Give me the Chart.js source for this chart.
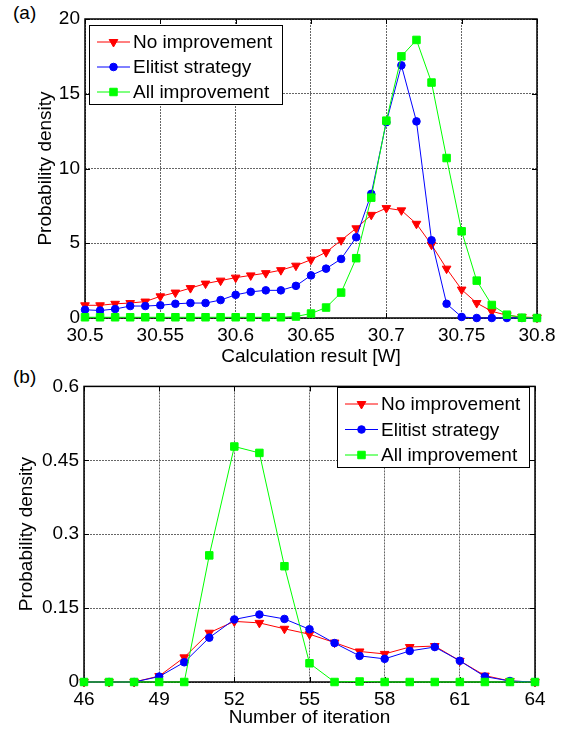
<!DOCTYPE html>
<html>
<head>
<meta charset="utf-8">
<script src="https://cdn.jsdelivr.net/npm/chart.js@4/dist/chart.umd.min.js"></script>
<style>
  body { margin: 0; background: #fff; }
  #wrap { position: relative; width: 565px; height: 731px; font-family: "Liberation Sans", Arial, sans-serif; }
  canvas { position: absolute; left: 0; }
  .tag { position: absolute; font-size: 19px; line-height: 19px; color: #000; }
</style>
</head>
<body>
<div id="wrap">
  <div class="tag" style="left:13px;top:3px;">(a)</div>
  <div class="tag" style="left:13px;top:367px;">(b)</div>
  <canvas id="cA" width="565" height="370" style="top:0"></canvas>
  <canvas id="cB" width="565" height="361" style="top:370px"></canvas>
</div>
<script>
// (a) calculation result
const resultX = [30.50, 30.51, 30.52, 30.53, 30.54, 30.55, 30.56, 30.57, 30.58, 30.59, 30.60,
  30.61, 30.62, 30.63, 30.64, 30.65, 30.66, 30.67, 30.68, 30.69, 30.70,
  30.71, 30.72, 30.73, 30.74, 30.75, 30.76, 30.77, 30.78, 30.79, 30.80];
const resultNone = [0.85, 0.85, 0.95, 1.0, 1.1, 1.45, 1.7, 2.0, 2.3, 2.5, 2.7,
  2.85, 3.0, 3.2, 3.5, 3.9, 4.4, 5.2, 6.0, 6.9, 7.35,
  7.2, 6.3, 4.9, 3.3, 1.9, 1.0, 0.45, 0.18, 0.07, 0.02];
const resultElite = [0.55, 0.5, 0.6, 0.8, 0.8, 0.85, 0.95, 1.0, 1.0, 1.2, 1.55,
  1.75, 1.85, 1.85, 2.15, 2.85, 3.3, 3.95, 5.4, 8.3, 13.1,
  16.9, 13.15, 5.2, 0.95, 0.07, 0, 0, 0, 0, 0];
const resultAll = [0.05, 0.05, 0.05, 0.05, 0.05, 0.05, 0.05, 0.05, 0.05, 0.05, 0.05,
  0.05, 0.05, 0.05, 0.1, 0.3, 0.7, 1.7, 4.0, 8.05, 13.2,
  17.5, 18.6, 15.75, 10.7, 5.8, 2.5, 0.87, 0.22, 0.02, 0];
const resultXTicks = [30.5, 30.55, 30.6, 30.65, 30.7, 30.75, 30.8];
const resultYTicks = [0, 5, 10, 15, 20];

// (b) number of iteration
const iterX = [46, 47, 48, 49, 50, 51, 52, 53, 54, 55, 56, 57, 58, 59, 60, 61, 62, 63, 64];
const iterNone = [0, 0, 0, 0.012, 0.05, 0.1, 0.123, 0.12, 0.108, 0.097, 0.08, 0.062, 0.057, 0.071, 0.073, 0.043, 0.013, 0.002, 0];
const iterElite = [0, 0, 0, 0.011, 0.04, 0.09, 0.127, 0.137, 0.128, 0.107, 0.079, 0.053, 0.047, 0.063, 0.071, 0.043, 0.011, 0.002, 0];
const iterAll = [0, 0, 0, 0, 0, 0.257, 0.478, 0.465, 0.235, 0.038, 0, 0.001, 0, 0, 0, 0, 0, 0, 0];
const iterXTicks = [46, 49, 52, 55, 58, 61, 64];
const iterYTicks = [0, 0.15, 0.3, 0.45, 0.6];
const iterYLabels = ['0', '0.15', '0.3', '0.45', '0.6'];

const seriesNames = ['No improvement', 'Elitist strategy', 'All improvement'];

Chart.defaults.font.family = '"Liberation Sans", Arial, sans-serif';
Chart.defaults.font.size = 19;
Chart.defaults.color = '#000';

const pts = (xs, ys) => xs.map((x, i) => ({ x, y: ys[i] }));

function makeSets(xs, a, b, c) {
  const base = { borderWidth: 1, pointBorderWidth: 1, tension: 0, clip: false, pointHoverRadius: 5 };
  return [
    { ...base, label: seriesNames[0], data: pts(xs, a), borderColor: '#ff0000', backgroundColor: '#ff0000',
      pointStyle: 'triangle', rotation: 180, pointRadius: 5, order: 3 },
    { ...base, label: seriesNames[1], data: pts(xs, b), borderColor: '#0000ff', backgroundColor: '#0000ff',
      pointStyle: 'circle', pointRadius: 3.8, order: 2 },
    { ...base, label: seriesNames[2], data: pts(xs, c), borderColor: '#00ff00', backgroundColor: '#00ff00',
      pointStyle: 'rect', pointRadius: 5.3, order: 1 },
  ];
}

// matlab-ish box with inward ticks on all sides
const frame = {
  id: 'frame',
  beforeDatasetsDraw(chart) {
    const { ctx, chartArea: a, scales: { x, y } } = chart;
    ctx.save();
    ctx.strokeStyle = '#000';
    ctx.lineWidth = 1;
    ctx.beginPath();
    x.ticks.forEach((t) => {
      const px = Math.round(x.getPixelForValue(t.value)) + 0.5;
      ctx.moveTo(px, a.bottom); ctx.lineTo(px, a.bottom - 5);
      ctx.moveTo(px, a.top); ctx.lineTo(px, a.top + 5);
    });
    y.ticks.forEach((t) => {
      const py = Math.round(y.getPixelForValue(t.value)) + 0.5;
      ctx.moveTo(a.left, py); ctx.lineTo(a.left + 5, py);
      ctx.moveTo(a.right, py); ctx.lineTo(a.right - 5, py);
    });
    ctx.stroke();
    ctx.lineWidth = 1.5;
    ctx.strokeRect(a.left, a.top, a.width, a.height);
    ctx.restore();
  },
};

// legend box inside the plot
const boxLegend = {
  id: 'boxLegend',
  afterDraw(chart, args, o) {
    const { ctx } = chart;
    ctx.save();
    ctx.fillStyle = '#fff';
    ctx.fillRect(o.x, o.y, o.w, o.h);
    ctx.strokeStyle = '#000';
    ctx.lineWidth = 1;
    ctx.strokeRect(o.x + 0.5, o.y + 0.5, o.w, o.h);
    chart.data.datasets.forEach((ds, i) => {
      const ry = o.rows[i];
      ctx.strokeStyle = ds.borderColor;
      ctx.lineWidth = 1;
      ctx.beginPath();
      ctx.moveTo(o.x0, ry); ctx.lineTo(o.x1, ry);
      ctx.stroke();
      ctx.fillStyle = ds.backgroundColor;
      Chart.helpers.drawPoint(ctx, { pointStyle: ds.pointStyle, radius: ds.pointRadius, rotation: ds.rotation || 0, borderWidth: 1 }, (o.x0 + o.x1) / 2, ry);
      ctx.fillStyle = '#000';
      ctx.font = '19px "Liberation Sans", Arial, sans-serif';
      ctx.textBaseline = 'middle';
      ctx.fillText(ds.label, o.tx, ry + 1);
    });
    ctx.restore();
  },
};

function makeChart(id, sets, cfg) {
  return new Chart(document.getElementById(id), {
    type: 'line',
    data: { datasets: sets },
    plugins: [frame, boxLegend],
    options: {
      responsive: false,
      animation: false,
      layout: { padding: cfg.pad },
      plugins: { legend: { display: false }, tooltip: { enabled: false }, boxLegend: cfg.legend },
      scales: {
        x: {
          type: 'linear', min: cfg.xTicks[0], max: cfg.xTicks[cfg.xTicks.length - 1],
          afterBuildTicks: (s) => { s.ticks = cfg.xTicks.map((v) => ({ value: v })); },
          afterFit: (s) => { s.height = cfg.xH; },
          ticks: { padding: 6, maxRotation: 0, callback: (v) => String(v) },
          grid: { color: '#666', drawTicks: false },
          border: { display: false, dash: [2, 1] },
          title: { display: true, text: cfg.xTitle, padding: { top: 0, bottom: cfg.xTitlePad } },
        },
        y: {
          min: cfg.yTicks[0], max: cfg.yTicks[cfg.yTicks.length - 1],
          afterBuildTicks: (s) => { s.ticks = cfg.yTicks.map((v) => ({ value: v })); },
          afterFit: (s) => { s.width = cfg.yW; },
          ticks: { padding: 5, callback: (v) => cfg.yLabels[cfg.yTicks.indexOf(v)] },
          grid: { color: '#666', drawTicks: false },
          border: { display: false, dash: [2, 1] },
          title: { display: true, text: 'Probability density', padding: { top: cfg.yTitlePad, bottom: 0 } },
        },
      },
    },
  });
}

makeChart('cA', makeSets(resultX, resultNone, resultElite, resultAll), {
  pad: { left: 0, right: 28, top: 19, bottom: 0 },
  xTicks: resultXTicks, yTicks: resultYTicks, yLabels: resultYTicks.map(String),
  xH: 52, yW: 85, xTitle: 'Calculation result [W]', xTitlePad: 2, yTitlePad: 34,
  legend: { x: 89, y: 25, w: 193, h: 79, rows: [42, 67, 92], x0: 97, x1: 130, tx: 133 },
});

makeChart('cB', makeSets(iterX, iterNone, iterElite, iterAll), {
  pad: { left: 0, right: 30, top: 12, bottom: 0 },
  xTicks: iterXTicks, yTicks: iterYTicks, yLabels: iterYLabels,
  xH: 49, yW: 84, xTitle: 'Number of iteration', xTitlePad: 2, yTitlePad: 15,
  legend: { x: 337, y: 17, w: 192, h: 80, rows: [34, 59.5, 85], x0: 345, x1: 378, tx: 381 },
});
</script>
</body>
</html>
